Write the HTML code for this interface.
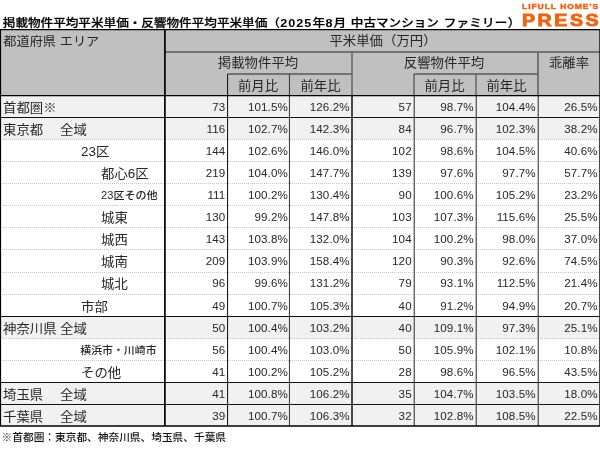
<!DOCTYPE html>
<html lang="ja">
<head>
<meta charset="utf-8">
<title>掲載物件平均平米単価・反響物件平均平米単価</title>
<style>
*{box-sizing:border-box;margin:0;padding:0}
html,body{width:600px;height:450px;background:#fff;overflow:hidden}
body{position:relative;font-family:"Liberation Sans","Noto Sans CJK JP",sans-serif;color:#262626;font-weight:400}
.a{position:absolute;white-space:nowrap}
#grid{left:0;top:0;width:600px;height:450px}
#title{left:2.8px;top:13.6px;font-size:12.6px;font-weight:500;-webkit-text-stroke:0.25px #000;color:#000;line-height:18px;word-spacing:1.2px;transform:scaleY(0.9);transform-origin:0 14.5px}
#title .d{letter-spacing:1px;margin-left:0.5px;font-weight:700;-webkit-text-stroke:0}
#title .k{letter-spacing:0.2px}
.h{font-size:13.4px;line-height:22px;text-align:center;transform:scaleY(0.94)}
.l{font-size:13.4px;line-height:22px;transform:scaleY(0.94);transform-origin:0 50%}
.n{font-size:11.6px;line-height:22px;text-align:right;width:60px;letter-spacing:0.1px}
#logo1{left:522.3px;top:2.3px;font-size:7.6px;font-weight:700;color:#f2620c;letter-spacing:0.85px;line-height:10px;font-family:"Liberation Sans",sans-serif;-webkit-text-stroke:0.45px #f2620c;transform:scaleX(1.12);transform-origin:0 0}
#logo2{left:521.6px;top:10px;font-size:16.7px;font-weight:700;color:#f2620c;letter-spacing:2.1px;line-height:22px;font-family:"Liberation Sans",sans-serif;-webkit-text-stroke:0.8px #f2620c;transform:scaleX(1.18);transform-origin:0 0}
#foot{left:1.6px;top:429px;font-size:10.7px;line-height:16px;color:#111;font-weight:500;transform:scaleY(0.95);transform-origin:0 60%}
</style>
</head>
<body>
<svg class="a" id="grid" width="600" height="450" viewBox="0 0 600 450">
<rect x="0" y="29.7" width="599.5" height="65.90" fill="#c0c0c0"/>
<rect x="0" y="95.6" width="599.5" height="21.9" fill="#f1f1f1"/>
<rect x="0" y="117.5" width="599.5" height="22.0" fill="#f1f1f1"/>
<rect x="0" y="316.5" width="599.5" height="22.0" fill="#f1f1f1"/>
<rect x="0" y="382.5" width="599.5" height="22.0" fill="#f1f1f1"/>
<rect x="0" y="404.5" width="599.5" height="21.5" fill="#f1f1f1"/>
<line x1="0" y1="117.50" x2="600" y2="117.50" stroke="#111" stroke-width="1"/>
<line x1="0" y1="139.50" x2="600" y2="139.50" stroke="#c8c8c8" stroke-width="1" stroke-dasharray="1 1"/>
<line x1="0" y1="161.50" x2="600" y2="161.50" stroke="#c8c8c8" stroke-width="1" stroke-dasharray="1 1"/>
<line x1="0" y1="183.50" x2="600" y2="183.50" stroke="#c8c8c8" stroke-width="1" stroke-dasharray="1 1"/>
<line x1="0" y1="205.50" x2="600" y2="205.50" stroke="#c8c8c8" stroke-width="1" stroke-dasharray="1 1"/>
<line x1="0" y1="227.50" x2="600" y2="227.50" stroke="#c8c8c8" stroke-width="1" stroke-dasharray="1 1"/>
<line x1="0" y1="249.50" x2="600" y2="249.50" stroke="#c8c8c8" stroke-width="1" stroke-dasharray="1 1"/>
<line x1="0" y1="272.50" x2="600" y2="272.50" stroke="#c8c8c8" stroke-width="1" stroke-dasharray="1 1"/>
<line x1="0" y1="294.50" x2="600" y2="294.50" stroke="#c8c8c8" stroke-width="1" stroke-dasharray="1 1"/>
<line x1="0" y1="316.50" x2="600" y2="316.50" stroke="#111" stroke-width="1"/>
<line x1="0" y1="338.50" x2="600" y2="338.50" stroke="#c8c8c8" stroke-width="1" stroke-dasharray="1 1"/>
<line x1="0" y1="360.50" x2="600" y2="360.50" stroke="#c8c8c8" stroke-width="1" stroke-dasharray="1 1"/>
<line x1="0" y1="382.50" x2="600" y2="382.50" stroke="#111" stroke-width="1"/>
<line x1="0" y1="404.50" x2="600" y2="404.50" stroke="#111" stroke-width="1"/>
<line x1="165" y1="51.90" x2="600" y2="51.90" stroke="#5a5a5a" stroke-width="1.5"/>
<line x1="227.6" y1="74.00" x2="352" y2="74.00" stroke="#5a5a5a" stroke-width="1.5"/>
<line x1="414" y1="74.00" x2="538" y2="74.00" stroke="#5a5a5a" stroke-width="1.5"/>
<line x1="289.45" y1="74.00" x2="289.45" y2="426.00" stroke="#333" stroke-width="1"/>
<line x1="414" y1="74.00" x2="414" y2="95.60" stroke="#666" stroke-width="1.6"/>
<line x1="414.25" y1="95.60" x2="414.25" y2="426.00" stroke="#484848" stroke-width="1.2"/>
<line x1="476" y1="74.00" x2="476" y2="95.60" stroke="#666" stroke-width="1.5"/>
<line x1="476.25" y1="95.60" x2="476.25" y2="426.00" stroke="#484848" stroke-width="1.2"/>
<line x1="538" y1="51.90" x2="538" y2="95.60" stroke="#666" stroke-width="1.7"/>
<line x1="538.25" y1="95.60" x2="538.25" y2="426.00" stroke="#484848" stroke-width="1.2"/>
<line x1="352" y1="51.90" x2="352" y2="95.60" stroke="#6a6a6a" stroke-width="1.6"/>
<line x1="352" y1="95.60" x2="352" y2="426.00" stroke="#000" stroke-width="1.4"/>
<line x1="227.55" y1="74.00" x2="227.55" y2="426.00" stroke="#1c1c1c" stroke-width="1.1"/>
<line x1="164.9" y1="29.70" x2="164.9" y2="426.00" stroke="#000" stroke-width="1.7"/>
<line x1="0.5" y1="29.70" x2="0.5" y2="426.00" stroke="#000" stroke-width="1.2"/>
<line x1="599.6" y1="29.70" x2="599.6" y2="426.00" stroke="#000" stroke-width="0.8"/>
<line x1="0" y1="95.60" x2="600" y2="95.60" stroke="#000" stroke-width="1.4"/>
<line x1="0" y1="29.55" x2="600" y2="29.55" stroke="#000" stroke-width="1.3"/>
<line x1="0" y1="426.00" x2="600" y2="426.00" stroke="#000" stroke-width="1.4"/>
</svg>
<div class="a" id="title">掲載物件平均平米単価・反響物件平均平米単価（<span class="d">2025</span>年<span class="d">8</span>月 中古マンション <span class="k">ファミリー</span>）</div>
<div class="a" id="logo1">LIFULL HOME'S</div>
<div class="a" id="logo2">PRESS</div>
<div class="a h" style="left:3.3px;top:30.6px;font-size:13.2px;text-align:left;transform-origin:0 50%">都道府県 エリア</div>
<div class="a h" style="left:166px;width:434px;top:30px">平米単価（万円）</div>
<div class="a h" style="left:165px;width:186px;top:52px">掲載物件平均</div>
<div class="a h" style="left:351px;width:186px;top:52px">反響物件平均</div>
<div class="a h" style="left:538px;width:62px;top:52px">乖離率</div>
<div class="a h" style="left:227px;width:62px;top:75px">前月比</div>
<div class="a h" style="left:290px;width:61px;top:75px">前年比</div>
<div class="a h" style="left:414px;width:61px;top:75px">前月比</div>
<div class="a h" style="left:476px;width:61px;top:75px">前年比</div>
<div class="a l" style="top:97px;left:3.1px">首都圏※</div>
<div class="a n" style="top:96px;left:165.3px">73</div>
<div class="a n" style="top:96px;left:227.9px">101.5%</div>
<div class="a n" style="top:96px;left:289.7px">126.2%</div>
<div class="a n" style="top:96px;left:351.7px">57</div>
<div class="a n" style="top:96px;left:413.7px">98.7%</div>
<div class="a n" style="top:96px;left:475.7px">104.4%</div>
<div class="a n" style="top:96px;left:537.6px">26.5%</div>
<div class="a l" style="top:119px;left:3.1px">東京都</div>
<div class="a l" style="top:119px;left:60px">全域</div>
<div class="a n" style="top:118px;left:165.3px">116</div>
<div class="a n" style="top:118px;left:227.9px">102.7%</div>
<div class="a n" style="top:118px;left:289.7px">142.3%</div>
<div class="a n" style="top:118px;left:351.7px">84</div>
<div class="a n" style="top:118px;left:413.7px">96.7%</div>
<div class="a n" style="top:118px;left:475.7px">102.3%</div>
<div class="a n" style="top:118px;left:537.6px">38.2%</div>
<div class="a l" style="top:141px;left:81.1px">23区</div>
<div class="a n" style="top:140px;left:165.3px">144</div>
<div class="a n" style="top:140px;left:227.9px">102.6%</div>
<div class="a n" style="top:140px;left:289.7px">146.0%</div>
<div class="a n" style="top:140px;left:351.7px">102</div>
<div class="a n" style="top:140px;left:413.7px">98.6%</div>
<div class="a n" style="top:140px;left:475.7px">104.5%</div>
<div class="a n" style="top:140px;left:537.6px">40.6%</div>
<div class="a l" style="top:163px;left:101.1px">都心6区</div>
<div class="a n" style="top:162px;left:165.3px">219</div>
<div class="a n" style="top:162px;left:227.9px">104.0%</div>
<div class="a n" style="top:162px;left:289.7px">147.7%</div>
<div class="a n" style="top:162px;left:351.7px">139</div>
<div class="a n" style="top:162px;left:413.7px">97.6%</div>
<div class="a n" style="top:162px;left:475.7px">97.7%</div>
<div class="a n" style="top:162px;left:537.6px">57.7%</div>
<div class="a l" style="top:184px;left:101.1px;font-size:11.05px;font-weight:500">23区その他</div>
<div class="a n" style="top:184px;left:165.3px">111</div>
<div class="a n" style="top:184px;left:227.9px">100.2%</div>
<div class="a n" style="top:184px;left:289.7px">130.4%</div>
<div class="a n" style="top:184px;left:351.7px">90</div>
<div class="a n" style="top:184px;left:413.7px">100.6%</div>
<div class="a n" style="top:184px;left:475.7px">105.2%</div>
<div class="a n" style="top:184px;left:537.6px">23.2%</div>
<div class="a l" style="top:207px;left:101.1px">城東</div>
<div class="a n" style="top:206px;left:165.3px">130</div>
<div class="a n" style="top:206px;left:227.9px">99.2%</div>
<div class="a n" style="top:206px;left:289.7px">147.8%</div>
<div class="a n" style="top:206px;left:351.7px">103</div>
<div class="a n" style="top:206px;left:413.7px">107.3%</div>
<div class="a n" style="top:206px;left:475.7px">115.6%</div>
<div class="a n" style="top:206px;left:537.6px">25.5%</div>
<div class="a l" style="top:229px;left:101.1px">城西</div>
<div class="a n" style="top:228px;left:165.3px">143</div>
<div class="a n" style="top:228px;left:227.9px">103.8%</div>
<div class="a n" style="top:228px;left:289.7px">132.0%</div>
<div class="a n" style="top:228px;left:351.7px">104</div>
<div class="a n" style="top:228px;left:413.7px">100.2%</div>
<div class="a n" style="top:228px;left:475.7px">98.0%</div>
<div class="a n" style="top:228px;left:537.6px">37.0%</div>
<div class="a l" style="top:251px;left:101.1px">城南</div>
<div class="a n" style="top:250px;left:165.3px">209</div>
<div class="a n" style="top:250px;left:227.9px">103.9%</div>
<div class="a n" style="top:250px;left:289.7px">158.4%</div>
<div class="a n" style="top:250px;left:351.7px">120</div>
<div class="a n" style="top:250px;left:413.7px">90.3%</div>
<div class="a n" style="top:250px;left:475.7px">92.6%</div>
<div class="a n" style="top:250px;left:537.6px">74.5%</div>
<div class="a l" style="top:273px;left:101.1px">城北</div>
<div class="a n" style="top:272px;left:165.3px">96</div>
<div class="a n" style="top:272px;left:227.9px">99.6%</div>
<div class="a n" style="top:272px;left:289.7px">131.2%</div>
<div class="a n" style="top:272px;left:351.7px">79</div>
<div class="a n" style="top:272px;left:413.7px">93.1%</div>
<div class="a n" style="top:272px;left:475.7px">112.5%</div>
<div class="a n" style="top:272px;left:537.6px">21.4%</div>
<div class="a l" style="top:296px;left:81.1px">市部</div>
<div class="a n" style="top:295px;left:165.3px">49</div>
<div class="a n" style="top:295px;left:227.9px">100.7%</div>
<div class="a n" style="top:295px;left:289.7px">105.3%</div>
<div class="a n" style="top:295px;left:351.7px">40</div>
<div class="a n" style="top:295px;left:413.7px">91.2%</div>
<div class="a n" style="top:295px;left:475.7px">94.9%</div>
<div class="a n" style="top:295px;left:537.6px">20.7%</div>
<div class="a l" style="top:318px;left:3.1px">神奈川県</div>
<div class="a l" style="top:318px;left:60px">全域</div>
<div class="a n" style="top:317px;left:165.3px">50</div>
<div class="a n" style="top:317px;left:227.9px">100.4%</div>
<div class="a n" style="top:317px;left:289.7px">103.2%</div>
<div class="a n" style="top:317px;left:351.7px">40</div>
<div class="a n" style="top:317px;left:413.7px">109.1%</div>
<div class="a n" style="top:317px;left:475.7px">97.3%</div>
<div class="a n" style="top:317px;left:537.6px">25.1%</div>
<div class="a l" style="top:339px;left:80.3px;font-size:10.9px;font-weight:500">横浜市・川崎市</div>
<div class="a n" style="top:339px;left:165.3px">56</div>
<div class="a n" style="top:339px;left:227.9px">100.4%</div>
<div class="a n" style="top:339px;left:289.7px">103.0%</div>
<div class="a n" style="top:339px;left:351.7px">50</div>
<div class="a n" style="top:339px;left:413.7px">105.9%</div>
<div class="a n" style="top:339px;left:475.7px">102.1%</div>
<div class="a n" style="top:339px;left:537.6px">10.8%</div>
<div class="a l" style="top:362px;left:81.1px">その他</div>
<div class="a n" style="top:361px;left:165.3px">41</div>
<div class="a n" style="top:361px;left:227.9px">100.2%</div>
<div class="a n" style="top:361px;left:289.7px">105.2%</div>
<div class="a n" style="top:361px;left:351.7px">28</div>
<div class="a n" style="top:361px;left:413.7px">98.6%</div>
<div class="a n" style="top:361px;left:475.7px">96.5%</div>
<div class="a n" style="top:361px;left:537.6px">43.5%</div>
<div class="a l" style="top:384px;left:3.1px">埼玉県</div>
<div class="a l" style="top:384px;left:60px">全域</div>
<div class="a n" style="top:383px;left:165.3px">41</div>
<div class="a n" style="top:383px;left:227.9px">100.8%</div>
<div class="a n" style="top:383px;left:289.7px">106.2%</div>
<div class="a n" style="top:383px;left:351.7px">35</div>
<div class="a n" style="top:383px;left:413.7px">104.7%</div>
<div class="a n" style="top:383px;left:475.7px">103.5%</div>
<div class="a n" style="top:383px;left:537.6px">18.0%</div>
<div class="a l" style="top:406px;left:3.1px">千葉県</div>
<div class="a l" style="top:406px;left:60px">全域</div>
<div class="a n" style="top:405px;left:165.3px">39</div>
<div class="a n" style="top:405px;left:227.9px">100.7%</div>
<div class="a n" style="top:405px;left:289.7px">106.3%</div>
<div class="a n" style="top:405px;left:351.7px">32</div>
<div class="a n" style="top:405px;left:413.7px">102.8%</div>
<div class="a n" style="top:405px;left:475.7px">108.5%</div>
<div class="a n" style="top:405px;left:537.6px">22.5%</div>
<div class="a" id="foot">※首都圏：東京都、神奈川県、埼玉県、千葉県</div>
</body>
</html>
